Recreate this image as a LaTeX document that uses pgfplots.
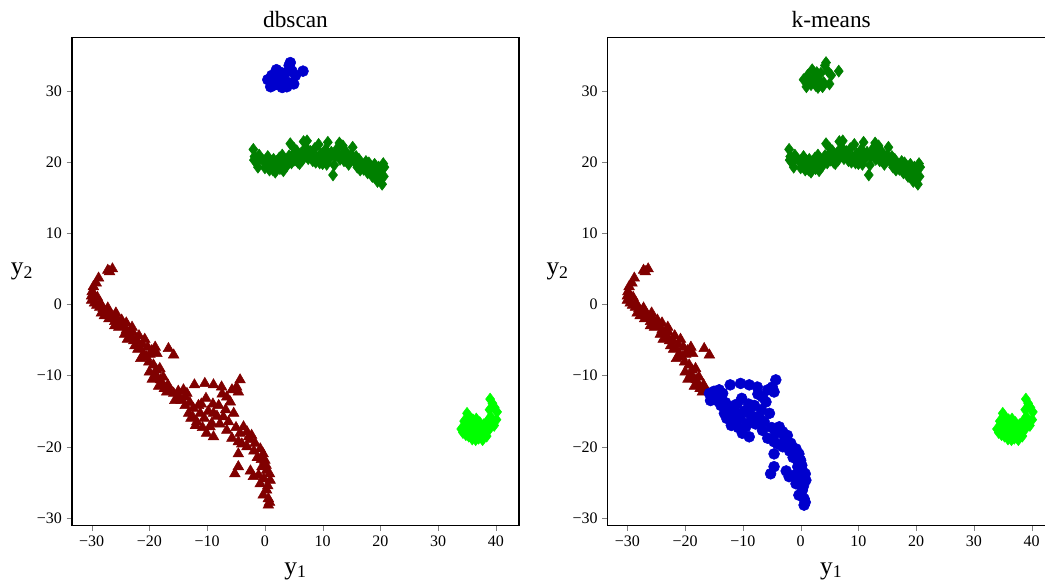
\documentclass[border=0pt]{standalone}
\usepackage{fontspec}
\setmainfont{Liberation Serif}
\usepackage{pgfplots}
\pgfplotsset{compat=1.18}
\usepackage{pgfplotstable}

\definecolor{cblue}{HTML}{0000CD}
\definecolor{cgreen}{HTML}{008000}
\definecolor{cred}{HTML}{800000}
\definecolor{clime}{HTML}{00FF00}

% small blob near (3,32)
\pgfplotstableread{
x y
0.5 31.6
1.2 32.2
1.5 31.5
2.0 33.0
2.3 31.8
2.6 30.8
1.0 30.6
3.0 30.5
3.2 31.5
3.5 32.5
4.2 33.6
4.4 34.0
4.0 31.2
5.0 31.0
5.3 32.2
4.7 32.8
6.6 32.8
2.8 32.6
3.8 30.6
1.8 30.9
}\blob

% long band around y=20
\pgfplotstableread{
x y
-2.0 21.8
-1.8 20.8
-1.5 20.0
-1.2 19.3
-0.8 20.6
-0.3 20.2
0.2 19.8
0.5 20.8
0.8 18.9
1.2 19.6
1.5 20.4
1.8 18.6
2.2 19.3
2.5 20.6
2.8 19.8
3.2 18.8
3.5 20.2
3.9 19.6
4.2 20.9
4.4 22.6
4.8 21.0
5.2 20.3
5.5 21.6
5.9 20.6
6.3 21.3
6.7 22.9
7.1 22.1
7.5 20.5
7.9 21.5
8.3 20.2
8.6 21.9
9.0 20.7
9.3 22.5
9.7 21.2
10.1 20.3
10.5 21.8
10.9 22.8
11.2 20.5
11.5 21.4
11.8 18.2
12.2 20.8
12.6 22.0
12.9 22.7
13.3 21.1
13.7 20.2
14.1 20.8
14.5 19.7
14.9 20.6
15.2 22.1
15.6 20.0
16.0 19.3
16.3 20.4
16.7 19.7
17.1 19.0
17.5 20.1
17.8 18.5
18.2 19.4
18.6 18.0
19.0 19.7
19.3 18.8
19.7 19.3
20.0 18.4
20.3 16.9
20.5 19.8
20.7 19.3
19.8 17.6
1.0 20.2
3.0 21.0
6.0 19.8
8.0 21.0
10.0 19.8
12.0 19.6
14.0 21.5
-1.9 20.3
-1.0 21.0
0.0 19.2
0.6 19.4
1.4 18.9
2.0 20.1
2.6 19.1
3.4 19.4
4.0 20.3
4.6 19.9
5.0 22.0
5.7 20.0
6.5 20.3
6.9 21.0
7.3 23.0
8.8 20.0
9.5 19.9
10.3 21.0
10.7 19.7
11.0 21.2
12.4 21.4
13.0 20.4
13.5 22.3
14.3 20.0
15.0 21.0
15.8 20.8
16.5 18.9
17.3 19.6
18.0 19.9
18.4 18.6
19.1 18.2
19.5 17.3
20.2 18.9
20.6 18.0
}\band

% upper-left part of the curved arm
\pgfplotstableread{
x y
-27.2 4.8
-26.4 5.0
-26.9 4.6
-28.8 3.7
-29.2 3.0
-29.7 2.5
-29.9 1.8
-30.0 1.2
-30.0 0.6
-29.5 0.2
-29.1 -0.1
-28.6 -0.4
-28.0 -0.6
-28.3 -1.2
-27.4 -1.0
-26.8 -1.3
-27.0 -2.0
-26.3 -1.8
-26.0 -2.4
-25.5 -2.1
-25.1 -2.6
-24.6 -3.0
-24.0 -3.6
-24.3 -4.2
-23.5 -4.0
-23.1 -4.6
-22.7 -5.1
-22.2 -5.0
-22.5 -5.8
-21.6 -6.2
-21.2 -5.6
-20.8 -4.9
-21.0 -7.0
-20.5 -7.4
-20.1 -8.1
-19.6 -6.5
-19.0 -6.0
-18.7 -6.9
-19.3 -8.5
-18.8 -9.2
-18.2 -9.0
-18.7 -10.2
-18.1 -10.6
-17.9 -11.1
-17.4 -11.8
-17.0 -12.3
-16.5 -12.0
-16.7 -6.2
-15.8 -7.1
-25.8 -1.2
-24.8 -2.2
-23.0 -3.2
-21.8 -4.4
-20.0 -9.5
-19.5 -10.5
-29.6 1.4
-28.5 0.2
-27.8 -1.6
-27.2 -0.5
-25.3 -3.2
-24.0 -2.6
-23.8 -4.9
-22.0 -6.3
-21.5 -7.6
-20.3 -6.0
-19.9 -7.0
-19.0 -9.8
-18.4 -11.5
-17.6 -10.2
-16.8 -11.3
-22.9 -3.9
-26.0 -3.0
-29.0 1.0
}\armA

% lower-right part of the curved arm
\pgfplotstableread{
x y
-15.8 -12.5
-15.6 -13.5
-15.0 -12.2
-14.1 -12.0
-13.8 -13.0
-12.2 -11.3
-13.8 -14.2
-13.2 -15.3
-12.4 -14.6
-13.0 -13.8
-11.2 -15.3
-11.8 -16.5
-12.5 -15.8
-10.4 -11.1
-10.2 -13.2
-8.9 -11.3
-7.5 -11.6
-8.9 -15.3
-9.2 -16.7
-10.1 -18.1
-8.9 -18.6
-7.2 -15.8
-6.6 -13.0
-6.0 -13.7
-5.4 -15.3
-5.7 -12.0
-4.9 -11.6
-4.3 -10.6
-4.6 -12.3
-6.6 -17.7
-5.7 -18.8
-4.3 -18.1
-3.1 -17.9
-2.3 -18.4
-4.6 -19.3
-3.1 -20.0
-1.7 -19.5
-0.8 -20.3
-4.6 -21.0
-4.6 -22.8
-5.2 -23.8
-2.0 -24.2
-0.3 -21.0
0.0 -21.9
0.3 -23.3
0.9 -24.7
-0.8 -25.2
0.3 -26.1
0.6 -27.3
0.6 -28.2
-1.1 -24.0
-0.5 -22.8
-11.0 -14.0
-10.5 -16.0
-9.8 -15.0
-8.0 -14.2
-7.8 -16.8
-6.8 -14.8
-3.7 -17.2
-2.6 -19.0
-1.3 -21.5
-0.2 -24.5
0.5 -25.5
-14.5 -13.5
-12.0 -17.0
-9.5 -17.2
-14.9 -13.0
-13.5 -12.5
-12.8 -16.0
-11.5 -14.2
-10.8 -17.3
-9.0 -14.0
-8.3 -15.7
-7.4 -12.6
-6.3 -16.5
-5.0 -17.3
-4.0 -19.6
-2.8 -18.6
-1.9 -20.6
-0.6 -21.8
0.2 -22.6
0.8 -23.8
-0.3 -26.8
0.8 -27.8
-2.5 -23.4
}\armB

% blob on the right
\pgfplotstableread{
x y
34.0 -17.5
34.3 -18.0
34.6 -17.0
35.0 -15.3
35.1 -16.2
35.3 -18.5
35.5 -17.4
35.7 -16.6
35.9 -18.9
36.1 -17.8
36.3 -16.9
36.5 -19.0
36.7 -18.2
36.9 -17.3
37.2 -16.6
37.4 -18.6
37.6 -17.7
37.9 -16.9
38.1 -18.1
38.3 -17.2
38.6 -16.3
38.8 -17.6
39.1 -15.8
39.0 -13.3
39.4 -13.9
39.8 -14.5
40.2 -15.1
40.1 -16.2
39.7 -17.0
38.9 -14.8
36.0 -16.2
35.4 -15.8
37.0 -18.8
38.4 -18.5
34.8 -18.3
36.6 -16.1
37.7 -19.0
35.8 -17.3
36.4 -17.6
37.3 -17.9
37.8 -18.3
38.5 -16.9
39.3 -16.5
34.5 -16.4
35.2 -17.0
}\lime

\pgfplotsset{
  panel/.style={
    width=335.25pt, height=366.3pt, scale only axis,
    xmin=-33.4, xmax=44, ymin=-31.1, ymax=37.55,
    xtick={-30,-20,...,40},
    xticklabels={−30,−20,−10,0,10,20,30,40},
    ytick={-30,-20,...,30},
    yticklabels={−30,−20,−10,0,10,20,30},
    tick align=outside, tick pos=left,
    major tick length=4pt,
    tick label style={font=\fontsize{12}{12}\selectfont},
    axis line style={line width=0.9pt},
    title style={font=\fontsize{17.5}{17.5}\selectfont, at={(axis description cs:0.5,1.02)}, anchor=base, yshift=-6pt},
    xlabel={y\textsubscript{1}}, ylabel={y\textsubscript{2}},
    xlabel style={font=\fontsize{19}{19}\selectfont, at={(axis description cs:0.5,-0.099)}, anchor=base},
    ylabel style={font=\fontsize{19}{19}\selectfont, rotate=-90, at={(axis description cs:-0.112,0.52)}, anchor=center},
    only marks,
  },
  dot/.style={mark=*, mark size=4.1pt, color=cblue},
  dia/.style={mark=diamond*, mark size=4.5pt, color=cgreen},
  tri/.style={mark=triangle*, mark size=4.6pt, color=cred},
  lim/.style={mark=diamond*, mark size=4.5pt, color=clime},
}

\begin{document}
\begin{tikzpicture}
\begin{axis}[panel, title={dbscan}, at={(0pt,0pt)}, anchor=south west]
\addplot[tri] table {\armA};
\addplot[tri] table {\armB};
\addplot[lim] table {\lime};
\addplot[dia] table {\band};
\addplot[dot] table {\blob};
\end{axis}
\begin{axis}[panel, title={k-means}, at={(401.8pt,0pt)}, anchor=south west]
\addplot[tri] table {\armA};
\addplot[dot] table {\armB};
\addplot[lim] table {\lime};
\addplot[dia] table {\band};
\addplot[dia] table {\blob};
\end{axis}
\pgfresetboundingbox
\path[use as bounding box] (-54pt,-42.2pt) rectangle (729.75pt,394.3pt);
\end{tikzpicture}
\end{document}
